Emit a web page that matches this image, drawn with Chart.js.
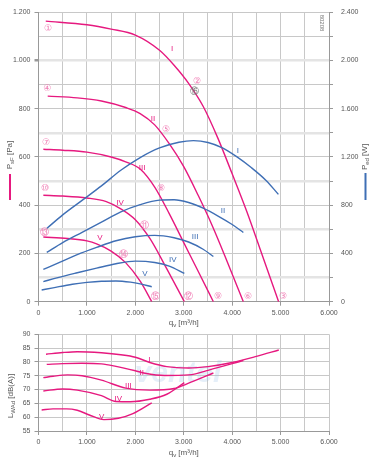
<!DOCTYPE html>
<html>
<head>
<meta charset="utf-8">
<script src="https://cdn.jsdelivr.net/npm/chart.js@4.4.0/dist/chart.umd.min.js"></script>
<style>
  html, body { margin: 0; padding: 0; background: #fff; }
  #wrap { position: relative; width: 377px; height: 461px; overflow: hidden; }
  #fanChart { position: absolute; left: 0; top: 0; }
  #noiseChart { position: absolute; left: 0; top: 318px; }
</style>
</head>
<body>
<div id="wrap">
  <canvas id="fanChart" width="377" height="330"></canvas>
  <canvas id="noiseChart" width="377" height="143"></canvas>
</div>
<script>
// pressure curves p_sF [Pa] vs q_v [m3/h], speeds I..V
const qI   = [150, 1000, 1500, 2000, 2500, 2800, 3100, 3400, 3700, 4000, 4300, 4600, 4960];
const pI   = [1163, 1148, 1130, 1105, 1042, 980, 905, 810, 680, 530, 375, 205, 0];
const qII  = [190, 800, 1300, 1800, 2100, 2400, 2700, 3000, 3300, 3600, 3900, 4231];
const pII  = [852, 845, 832, 805, 780, 733, 655, 560, 440, 310, 165, 0];
const qIII = [100, 500, 1000, 1500, 1800, 2100, 2400, 2700, 3000, 3300, 3612];
const pIII = [632, 628, 620, 600, 580, 550, 475, 365, 245, 125, 0];
const qIV  = [100, 500, 1000, 1400, 1700, 2000, 2300, 2600, 3012];
const pIV  = [441, 438, 430, 415, 385, 340, 262, 155, 0];
const qV   = [100, 600, 1000, 1200, 1500, 1800, 2100, 2339];
const pV   = [268, 262, 252, 240, 210, 162, 85, 0];

// input power P_ed [W]
const wqI   = [170, 500, 900, 1300, 1700, 2100, 2500, 2900, 3200, 3500, 3800, 4100, 4400, 4700, 4955];
const wI    = [607, 720, 840, 960, 1090, 1195, 1275, 1322, 1335, 1320, 1275, 1200, 1110, 1005, 890];
const wqII  = [170, 500, 900, 1300, 1700, 2100, 2500, 2800, 3100, 3400, 3700, 4000, 4231];
const wII   = [409, 490, 575, 660, 745, 805, 842, 845, 822, 775, 712, 640, 574];
const wqIII = [100, 400, 800, 1200, 1600, 2000, 2400, 2800, 3100, 3400, 3612];
const wIII  = [268, 320, 390, 450, 505, 538, 550, 530, 495, 435, 375];
const wqIV  = [100, 400, 800, 1200, 1600, 2000, 2400, 2700, 3012];
const wIV   = [166, 200, 240, 278, 315, 336, 325, 295, 235];
const wqV   = [65, 300, 700, 1000, 1300, 1600, 1900, 2100, 2339];
const wV    = [97, 115, 145, 160, 170, 172, 162, 148, 124];

// sound power L_WAd [dB(A)]
const lqI   = [155, 500, 800, 1300, 1700, 2000, 2300, 2650, 3100, 3500, 4000, 4500, 4963];
const lI    = [82.8, 83.4, 83.7, 83.3, 82.6, 81.7, 79.8, 78.3, 77.8, 78.3, 79.8, 82.0, 84.3];
const lqII  = [170, 500, 900, 1300, 1600, 2000, 2200, 2600, 3100, 3600, 4231];
const lII   = [79.1, 79.4, 79.5, 79.3, 78.4, 76.8, 75.9, 75.1, 75.3, 77.5, 80.5];
const lqIII = [100, 300, 600, 900, 1300, 1800, 2300, 2800, 3100, 3612];
const lIII  = [74.3, 74.8, 75.3, 75.0, 73.4, 70.5, 69.8, 70.4, 72.3, 76.0];
const lqIV  = [100, 500, 800, 1300, 1600, 1900, 2300, 2650, 3012];
const lIV   = [69.5, 70.2, 69.8, 67.8, 65.7, 65.6, 66.5, 68.3, 72.5];
const lqV   = [65, 300, 580, 800, 1050, 1350, 1650, 1950, 2339];
const lV    = [62.6, 63.0, 63.0, 62.5, 60.8, 59.1, 59.6, 61.3, 65.2];

// operating point marks (q, p, label) and curve names
const opPoints = [
  [196, 1131, '①'], [3275, 913, '②'], [5052, 19, '③'],
  [182, 883, '④'], [2634, 715, '⑤'], [4329, 19, '⑥'],
  [155, 660, '⑦'], [2531, 469, '⑧'], [3709, 19, '⑨'],
  [134, 469, '⑩'], [2186, 317, '⑪'], [3089, 19, '⑫'],
  [114, 287, '⑬'], [1752, 193, '⑭'], [2407, 19, '⑮']
];
const grayPoint = [3219, 872, '⑯'];
const pressNames = [[2758, 1050, 'I'], [2366, 760, 'II'], [2138, 557, 'III'], [1684, 408, 'IV'], [1271, 264, 'V']];
const powerNames = [[4116, 1255, 'I'], [3812, 751, 'II'], [3233, 538, 'III'], [2773, 345, 'IV'], [2200, 229, 'V']];
const noiseNames = [[2290, 80.7, 'I'], [2132, 75.9, 'II'], [1855, 71.3, 'III'], [1649, 66.5, 'IV'], [1306, 60.2, 'V']];

const PINK = '#e6197f';
const BLUE = '#3f6fb5';
const TXT = '#555';
const FONT = "'Liberation Sans', Arial, sans-serif";

function fmt(v) { return String(v).replace(/\B(?=(\d{3})+(?!\d))/g, '.'); }
function pts(xs, ys) { return xs.map((x, i) => ({ x: x, y: ys[i] })); }
function line(xs, ys, color, axis) {
  return {
    data: pts(xs, ys), borderColor: color, borderWidth: 1.4, pointRadius: 0,
    cubicInterpolationMode: 'monotone', fill: false, yAxisID: axis || 'y'
  };
}

// text with subscript part, optionally rotated
function subText(ctx, x, y, parts, rot) {
  ctx.save();
  ctx.translate(x, y);
  if (rot) ctx.rotate(rot);
  let w = 0;
  parts.forEach(p => { ctx.font = p[1] + 'px ' + FONT; w += ctx.measureText(p[0]).width; });
  let cx = -w / 2;
  ctx.fillStyle = TXT;
  ctx.textBaseline = 'middle';
  ctx.textAlign = 'left';
  parts.forEach(p => {
    ctx.font = p[1] + 'px ' + FONT;
    ctx.fillText(p[0], cx, p[2] || 0);
    cx += ctx.measureText(p[0]).width;
  });
  ctx.restore();
}

const thickPa = [100, 300, 500, 700, 1000];

const fanNotes = {
  id: 'fanNotes',
  afterDatasetsDraw(chart) {
    const ctx = chart.ctx, sx = chart.scales.x, sy = chart.scales.y, sw = chart.scales.y1;
    ctx.save();
    ctx.textAlign = 'center';
    ctx.textBaseline = 'middle';
    ctx.font = "9px 'DejaVu Sans'";
    ctx.fillStyle = '#f07cb4';
    opPoints.forEach(o => ctx.fillText(o[2], sx.getPixelForValue(o[0]), sy.getPixelForValue(o[1])));
    ctx.fillStyle = '#777';
    ctx.fillText(grayPoint[2], sx.getPixelForValue(grayPoint[0]), sy.getPixelForValue(grayPoint[1]));
    ctx.font = '8px ' + FONT;
    ctx.fillStyle = PINK;
    pressNames.forEach(o => ctx.fillText(o[2], sx.getPixelForValue(o[0]), sy.getPixelForValue(o[1])));
    ctx.fillStyle = BLUE;
    powerNames.forEach(o => ctx.fillText(o[2], sx.getPixelForValue(o[0]), sw.getPixelForValue(o[1])));
    ctx.restore();
  },
  afterDraw(chart) {
    const ctx = chart.ctx, a = chart.chartArea;
    subText(ctx, 10, 155, [['P', 8], ['sF', 6, 2], [' [Pa]', 8]], -Math.PI / 2);
    subText(ctx, 365, 157, [['P', 8], ['ed', 6, 2], [' [W]', 8]], -Math.PI / 2);
    subText(ctx, (a.left + a.right) / 2, 323, [['q', 8], ['v', 6, 2], [' [m³/h]', 8]], 0);
    ctx.save();
    ctx.lineWidth = 2;
    ctx.strokeStyle = PINK;
    ctx.beginPath(); ctx.moveTo(10, 174); ctx.lineTo(10, 200); ctx.stroke();
    ctx.strokeStyle = BLUE;
    ctx.beginPath(); ctx.moveTo(365.5, 173); ctx.lineTo(365.5, 200); ctx.stroke();
    ctx.translate(322, 23);
    ctx.rotate(Math.PI / 2);
    ctx.font = '6px ' + FONT;
    ctx.fillStyle = '#777';
    ctx.textAlign = 'center';
    ctx.textBaseline = 'middle';
    ctx.fillText('80208', 0, 0);
    ctx.restore();
  }
};

const noiseNotes = {
  id: 'noiseNotes',
  beforeDatasetsDraw(chart) {
    const ctx = chart.ctx;
    ctx.save();
    ctx.font = "italic bold 30px " + FONT;
    ctx.fillStyle = 'rgba(150,190,230,0.25)';
    ctx.textAlign = 'center';
    ctx.textBaseline = 'middle';
    ctx.fillText('ventel', 178, 56);
    ctx.restore();
  },
  afterDatasetsDraw(chart) {
    const ctx = chart.ctx, sx = chart.scales.x, sy = chart.scales.y;
    ctx.save();
    ctx.textAlign = 'center';
    ctx.textBaseline = 'middle';
    ctx.font = '8px ' + FONT;
    ctx.fillStyle = PINK;
    noiseNames.forEach(o => ctx.fillText(o[2], sx.getPixelForValue(o[0]), sy.getPixelForValue(o[1])));
    ctx.restore();
  },
  afterDraw(chart) {
    const ctx = chart.ctx, a = chart.chartArea;
    subText(ctx, 11, 78, [['L', 8], ['WAd', 6, 2], [' [dB(A)]', 8]], -Math.PI / 2);
    subText(ctx, (a.left + a.right) / 2, 135, [['q', 8], ['v', 6, 2], [' [m³/h]', 8]], 0);
  }
};

const xAxis = (h) => ({
  type: 'linear', min: 0, max: 6000,
  afterFit(s) { s.height = h; },
  afterBuildTicks(s) { s.ticks = []; for (let v = 0; v <= 6000; v += 500) s.ticks.push({ value: v }); },
  ticks: {
    color: TXT, font: { size: 7, family: FONT }, padding: 3, maxRotation: 0, autoSkip: false,
    callback: v => (v % 1000 === 0 ? fmt(v) : '')
  },
  grid: {
    color: '#c8c8c8', lineWidth: 1, tickLength: 4,
    tickColor: c => (c.tick && c.tick.value % 1000 === 0 ? '#999' : 'rgba(0,0,0,0)')
  },
  border: { color: '#999' }
});

new Chart(document.getElementById('fanChart'), {
  type: 'line',
  data: {
    datasets: [
      line(wqI, wI, BLUE, 'y1'), line(wqII, wII, BLUE, 'y1'), line(wqIII, wIII, BLUE, 'y1'),
      line(wqIV, wIV, BLUE, 'y1'), line(wqV, wV, BLUE, 'y1'),
      line(qI, pI, PINK), line(qII, pII, PINK), line(qIII, pIII, PINK),
      line(qIV, pIV, PINK), line(qV, pV, PINK)
    ]
  },
  options: {
    responsive: false, animation: false, events: [],
    layout: { padding: { top: 11.7, left: 0, right: 0, bottom: 0 } },
    plugins: { legend: { display: false }, tooltip: { enabled: false } },
    scales: {
      x: xAxis(28.3),
      y: {
        min: 0, max: 1200,
        afterFit(s) { s.width = 38.5; },
        afterBuildTicks(s) { s.ticks = []; for (let v = 0; v <= 1200; v += 100) s.ticks.push({ value: v }); },
        ticks: {
          color: TXT, font: { size: 7, family: FONT }, padding: 4, autoSkip: false,
          callback: v => (v % 200 === 0 ? fmt(v) : '')
        },
        grid: {
          color: c => (thickPa.includes(c.tick && c.tick.value) ? '#e4e4e4' : '#c8c8c8'),
          lineWidth: c => (thickPa.includes(c.tick && c.tick.value) ? 2.5 : 1),
          tickLength: 4,
          tickColor: c => (c.tick && c.tick.value % 200 === 0 ? '#999' : 'rgba(0,0,0,0)')
        },
        border: { color: '#999' }
      },
      y1: {
        position: 'right', min: 0, max: 2400,
        afterFit(s) { s.width = 48; },
        afterBuildTicks(s) { s.ticks = []; for (let v = 0; v <= 2400; v += 200) s.ticks.push({ value: v }); },
        ticks: {
          color: TXT, font: { size: 7, family: FONT }, padding: 8, autoSkip: false,
          callback: v => (v % 400 === 0 ? fmt(v) : '')
        },
        grid: { drawOnChartArea: false, tickLength: 4, tickColor: '#999' },
        border: { color: '#999' }
      }
    }
  },
  plugins: [fanNotes]
});

new Chart(document.getElementById('noiseChart'), {
  type: 'line',
  data: {
    datasets: [
      line(lqI, lI, PINK), line(lqII, lII, PINK), line(lqIII, lIII, PINK),
      line(lqIV, lIV, PINK), line(lqV, lV, PINK)
    ]
  },
  options: {
    responsive: false, animation: false, events: [],
    layout: { padding: { top: 16.3, left: 0, right: 48, bottom: 0 } },
    plugins: { legend: { display: false }, tooltip: { enabled: false } },
    scales: {
      x: xAxis(30),
      y: {
        min: 55, max: 90,
        afterFit(s) { s.width = 38.5; },
        afterBuildTicks(s) { s.ticks = []; for (let v = 55; v <= 90; v += 5) s.ticks.push({ value: v }); },
        ticks: { color: TXT, font: { size: 7, family: FONT }, padding: 4, autoSkip: false },
        grid: { color: '#c8c8c8', lineWidth: 1, tickLength: 4, tickColor: '#999' },
        border: { color: '#999' }
      }
    }
  },
  plugins: [noiseNotes]
});
</script>
</body>
</html>
